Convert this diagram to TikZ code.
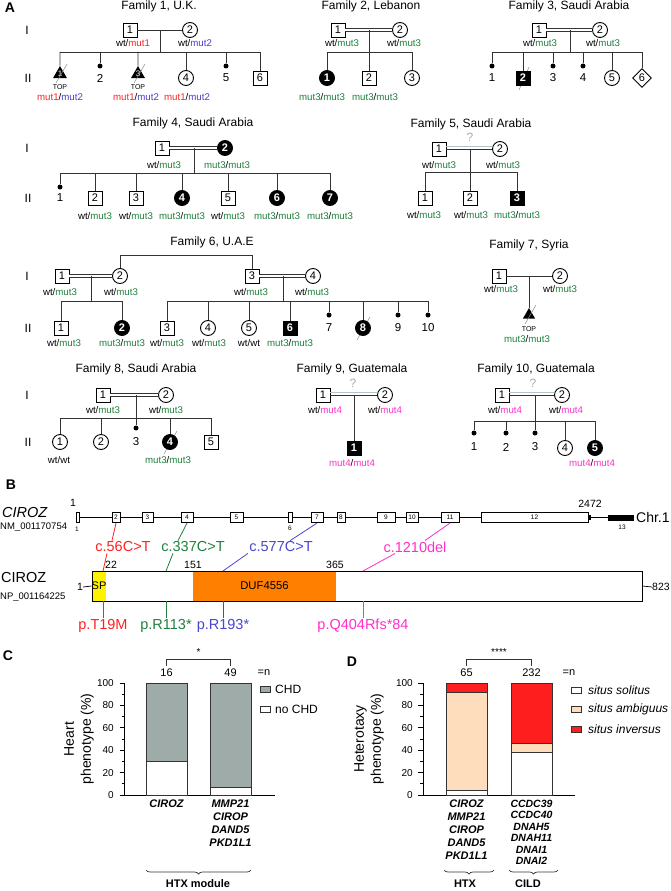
\documentclass[tikz,border=0pt]{standalone}
\usepackage{fontspec}
\setmainfont{Liberation Sans}
\usetikzlibrary{shapes.geometric,decorations.pathreplacing}
\definecolor{mutRed}   {HTML}{FF2020}
\definecolor{mutBlue}  {HTML}{4B3CC8}
\definecolor{mutGreen} {HTML}{1F7F3C}
\definecolor{mutPink}  {HTML}{FF2FC8}
\definecolor{cBlue}    {HTML}{4747CC}
\definecolor{lineGray} {HTML}{333333}
\definecolor{slashGray}{HTML}{8A8A8A}
\definecolor{qGray}    {HTML}{A9A9A9}
\definecolor{consGray} {HTML}{B4C3C8}
\definecolor{spYellow} {HTML}{FFF200}
\definecolor{dufOrange}{HTML}{FF8000}
\definecolor{chdGray}  {HTML}{9FABA9}
\definecolor{ambBeige} {HTML}{FDDDBC}
\definecolor{invRed}   {HTML}{FF1E1E}
\newcommand{\fsz}[1]{\fontsize{#1}{#1}\selectfont}
\newcommand{\mone}{\textcolor{mutRed}{mut1}}
\newcommand{\mtwo}{\textcolor{mutBlue}{mut2}}
\newcommand{\mthree}{\textcolor{mutGreen}{mut3}}
\newcommand{\mfour}{\textcolor{mutPink}{mut4}}
\newcommand{\chartseg}[5]{\draw[barseg,fill=#5] (#1,{795-1.12*#3}) rectangle (#2,{795-1.12*#4});}
\tikzset{
  panellab/.style={font=\bfseries\fsz{14},inner sep=0pt},
  famtitle/.style={font=\fsz{12},inner sep=0pt},
  genlab/.style={font=\fsz{12},inner sep=0pt},
  male/.style={rectangle,draw=black,line width=0.9pt,fill=white,minimum size=14pt,inner sep=0pt,font=\fsz{11}},
  female/.style={circle,draw=black,line width=0.9pt,fill=white,minimum size=15pt,inner sep=0pt,font=\fsz{11}},
  unknown/.style={diamond,draw=black,line width=0.9pt,fill=white,minimum size=19pt,inner sep=0pt,font=\fsz{11}},
  topnode/.style={regular polygon,regular polygon sides=3,fill=black,minimum size=16pt,inner sep=0pt,text=white,font=\fsz{8}},
  aff/.style={fill=black,text=white,font=\bfseries\fsz{11}},
  loss/.style={circle,fill=black,minimum size=5pt,inner sep=0pt},
  num/.style={font=\fsz{11.5},inner sep=0pt},
  geno/.style={font=\fsz{9.7},inner sep=0pt},
  toplab/.style={font=\fsz{7},inner sep=0pt},
  ped/.style={draw=lineGray,line width=0.9pt},
  cons/.style={draw=lineGray,double=white,double distance=2pt,line width=0.8pt},
  consq/.style={draw=consGray,line width=0.9pt},
  qmark/.style={font=\fsz{12},text=qGray,inner sep=0pt},
  slash/.style={draw=slashGray,line width=0.5pt},
  exon/.style={rectangle,draw=black,line width=0.7pt,fill=white,minimum height=10.5pt,inner sep=0pt,font=\fsz{6.5}},
  gline/.style={draw=black,line width=0.7pt},
  posnum/.style={font=\fsz{10.5},inner sep=0pt},
  mutlab/.style={font=\fsz{14.5},inner sep=1pt},
  mutln/.style={line width=0.8pt},
  axisln/.style={draw=black,line width=0.8pt},
  tick/.style={font=\fsz{10},inner sep=0pt},
  barseg/.style={draw=lineGray,line width=0.9pt},
  genes/.style={font=\bfseries\itshape\fsz{11.5},inner sep=0pt,align=center},
  grp/.style={font=\bfseries\fsz{11},inner sep=0pt},
  brc/.style={draw=lineGray,line width=0.7pt,decorate,decoration={brace,mirror,amplitude=4pt}},
  legbox/.style={rectangle,draw=lineGray,line width=0.9pt,minimum width=10pt,minimum height=6pt,inner sep=0pt},
  legtxt/.style={font=\fsz{12},inner sep=0pt,anchor=west},
  ylab/.style={font=\fontsize{14}{17}\selectfont,rotate=90,align=center,inner sep=0pt},
}

\begin{document}
\begin{tikzpicture}[x=1pt,y=-1pt]
\useasboundingbox (0,0) rectangle (671,891);

% ---------------- A: pedigrees ----------------
\node[panellab] (labA) at (10,8) {A};
\node[genlab] (gI1)  at (27,30)  {I};
\node[genlab] (gII1) at (28,78)  {II};
\node[genlab] (gI2)  at (27,148) {I};
\node[genlab] (gII2) at (28,198) {II};
\node[genlab] (gI3)  at (27,276) {I};
\node[genlab] (gII3) at (28,328) {II};
\node[genlab] (gI4)  at (27,395) {I};
\node[genlab] (gII4) at (28,442) {II};

% family 1
\node[famtitle] (t1) at (159,6) {Family 1, U.K.};
\node[male]   (f1a) at (130,30) {1};
\node[female] (f1b) at (190,30) {2};
\coordinate (f1m) at (160,30);
\coordinate (f1s) at (160,52);
\draw[ped] (f1a) -- (f1b);
\draw[ped] (f1m) -- (f1s);
\node[topnode] (f1c1) at (60,74) {1};
\node[loss]    (f1c2) at (100,66) {};
\node[topnode] (f1c3) at (138,74) {3};
\node[female]  (f1c4) at (186,78) {4};
\node[loss]    (f1c5) at (226,66) {};
\node[male]    (f1c6) at (260,78) {6};
\draw[ped] (f1c1 |- f1s) -- (f1c6 |- f1s);
\foreach \c in {f1c1,f1c2,f1c3,f1c4,f1c5,f1c6} \draw[ped] (\c) -- (\c |- f1s);
\draw[slash] ([shift={(-4,9)}]f1c1.center) -- ([shift={(7,-10)}]f1c1.center);
\draw[slash] ([shift={(-4,9)}]f1c3.center) -- ([shift={(7,-10)}]f1c3.center);
\node[num] (f1n2) at (100,78) {2};
\node[num] (f1n5) at (226,78) {5};
\node[toplab] (f1top1) at (60,87) {TOP};
\node[toplab] (f1top3) at (138,87) {TOP};
\node[geno] (f1ga) at (133,43) {wt/\mone};
\node[geno] (f1gb) at (195,43) {wt/\mtwo};
\node[geno] (f1g1) at (60,97)  {\mone/\mtwo};
\node[geno] (f1g3) at (136,97) {\mone/\mtwo};
\node[geno] (f1g4) at (187,97) {\mone/\mtwo};

% family 2
\node[famtitle] (t2) at (371,6) {Family 2, Lebanon};
\node[male]   (f2a) at (338,30) {1};
\node[female] (f2b) at (400,30) {2};
\coordinate (f2m) at (369,30);
\coordinate (f2s) at (369,52);
\draw[cons] (f2a) -- (f2b);
\draw[ped] (f2m) -- (f2s);
\node[female,aff] (f2c1) at (327,78) {1};
\node[male]       (f2c2) at (369,78) {2};
\node[female]     (f2c3) at (412,78) {3};
\draw[ped] (f2c1 |- f2s) -- (f2c3 |- f2s);
\foreach \c in {f2c1,f2c2,f2c3} \draw[ped] (\c) -- (\c |- f2s);
\node[geno] (f2ga) at (342,43) {wt/\mthree};
\node[geno] (f2gb) at (404,43) {wt/\mthree};
\node[geno] (f2g1) at (322,97) {\mthree/\mthree};
\node[geno] (f2g2) at (375,97) {\mthree/\mthree};

% family 3
\node[famtitle] (t3) at (569,6) {Family 3, Saudi Arabia};
\node[male]   (f3a) at (539,30) {1};
\node[female] (f3b) at (600,30) {2};
\coordinate (f3m) at (570,30);
\coordinate (f3s) at (570,52);
\draw[cons] (f3a) -- (f3b);
\draw[ped] (f3m) -- (f3s);
\node[loss]    (f3c1) at (492,66) {};
\draw[slash] ([shift={(-4,12)}]523,78) -- ([shift={(6,-11)}]523,78);
\node[male,aff] (f3c2) at (523,78) {2};
\node[loss]    (f3c3) at (553,66) {};
\node[loss]    (f3c4) at (583,66) {};
\node[female]  (f3c5) at (612,78) {5};
\node[unknown] (f3c6) at (642,78) {6};
\draw[ped] (f3c1 |- f3s) -- (f3c6 |- f3s);
\foreach \c in {f3c1,f3c2,f3c3,f3c4,f3c5,f3c6} \draw[ped] (\c) -- (\c |- f3s);
\node[num] (f3n1) at (492,78) {1};
\node[num] (f3n3) at (553,78) {3};
\node[num] (f3n4) at (583,78) {4};
\node[geno] (f3ga) at (540,43) {wt/\mthree};
\node[geno] (f3gb) at (603,43) {wt/\mthree};

% family 4
\node[famtitle] (t4) at (193,123) {Family 4, Saudi Arabia};
\node[male]       (f4a) at (162,148) {1};
\node[female,aff] (f4b) at (225,148) {2};
\coordinate (f4m) at (194,148);
\coordinate (f4s) at (194,173);
\draw[cons] (f4a) -- (f4b);
\draw[ped] (f4m) -- (f4s);
\node[loss]       (f4c1) at (60,187)  {};
\node[male]       (f4c2) at (95,198)  {2};
\node[male]       (f4c3) at (136,198) {3};
\node[female,aff] (f4c4) at (182,198) {4};
\node[male]       (f4c5) at (228,198) {5};
\node[female,aff] (f4c6) at (277,198) {6};
\node[female,aff] (f4c7) at (330,198) {7};
\draw[ped] (f4c1 |- f4s) -- (f4c7 |- f4s);
\foreach \c in {f4c1,f4c2,f4c3,f4c4,f4c5,f4c6,f4c7} \draw[ped] (\c) -- (\c |- f4s);
\node[num] (f4n1) at (60,198) {1};
\node[geno] (f4ga) at (164,165) {wt/\mthree};
\node[geno] (f4gb) at (227,165) {\mthree/\mthree};
\node[geno] (f4g2) at (95,216)  {wt/\mthree};
\node[geno] (f4g3) at (136,216) {wt/\mthree};
\node[geno] (f4g4) at (182,216) {\mthree/\mthree};
\node[geno] (f4g5) at (228,216) {wt/\mthree};
\node[geno] (f4g6) at (277,216) {\mthree/\mthree};
\node[geno] (f4g7) at (330,216) {\mthree/\mthree};

% family 5
\node[famtitle] (t5) at (471,124) {Family 5, Saudi Arabia};
\node[qmark] (f5q) at (470,137) {?};
\node[male]   (f5a) at (439,149) {1};
\node[female] (f5b) at (500,149) {2};
\coordinate (f5m) at (470,149);
\coordinate (f5s) at (470,172);
\draw[consq] ([shift={(0,-2.8)}]f5a.east) -- ([shift={(0,-2.8)}]f5b.west);
\draw[ped] (f5a) -- (f5b);
\draw[ped] (f5m) -- (f5s);
\node[male]     (f5c1) at (425,198) {1};
\node[male]     (f5c2) at (470,198) {2};
\node[male,aff] (f5c3) at (517,198) {3};
\draw[ped] (f5c1 |- f5s) -- (f5c3 |- f5s);
\foreach \c in {f5c1,f5c2,f5c3} \draw[ped] (\c) -- (\c |- f5s);
\node[geno] (f5ga) at (439,165) {wt/\mthree};
\node[geno] (f5gb) at (503,165) {wt/\mthree};
\node[geno] (f5g1) at (424,215) {wt/\mthree};
\node[geno] (f5g2) at (471,215) {wt/\mthree};
\node[geno] (f5g3) at (517,215) {\mthree/\mthree};

% family 6
\node[famtitle] (t6) at (212,242) {Family 6, U.A.E};
\node[male]   (f6a) at (62,276)  {1};
\node[female] (f6b) at (120,276) {2};
\node[male]   (f6c) at (252,276) {3};
\node[female] (f6d) at (313,276) {4};
\coordinate (f6t)  at (186,255);
\coordinate (f6m1) at (91,276);
\coordinate (f6s1) at (91,301);
\coordinate (f6m2) at (283,276);
\coordinate (f6s2) at (283,301);
\draw[ped] (f6b.north) -- (f6b.north |- f6t) -- (f6c.north |- f6t) -- (f6c.north);
\draw[cons] (f6a) -- (f6b);
\draw[cons] (f6c) -- (f6d);
\draw[ped] (f6m1) -- (f6s1);
\draw[ped] (f6m2) -- (f6s2);
\node[male]       (f6c1) at (61,328)  {1};
\node[female,aff] (f6c2) at (122,328) {2};
\draw[ped] (f6c1 |- f6s1) -- (f6c2 |- f6s1);
\foreach \c in {f6c1,f6c2} \draw[ped] (\c) -- (\c |- f6s1);
\node[male]       (f6c3) at (167,328) {3};
\node[female]     (f6c4) at (208,328) {4};
\node[female]     (f6c5) at (249,328) {5};
\node[male,aff]   (f6c6) at (290,328) {6};
\node[loss]       (f6c7) at (329,315) {};
\draw[slash] ([shift={(-6,12)}]363,328) -- ([shift={(7,-11)}]363,328);
\node[female,aff] (f6c8) at (363,328) {8};
\node[loss]       (f6c9) at (398,315) {};
\node[loss]       (f6c10) at (428,315) {};
\draw[ped] (f6c3 |- f6s2) -- (f6c10 |- f6s2);
\foreach \c in {f6c3,f6c4,f6c5,f6c6,f6c7,f6c8,f6c9,f6c10} \draw[ped] (\c) -- (\c |- f6s2);
\node[num] (f6n7)  at (329,328) {7};
\node[num] (f6n9)  at (398,328) {9};
\node[num] (f6n10) at (428,328) {10};
\node[geno] (f6ga) at (60,292)  {wt/\mthree};
\node[geno] (f6gb) at (121,292) {wt/\mthree};
\node[geno] (f6gc) at (251,292) {wt/\mthree};
\node[geno] (f6gd) at (312,292) {wt/\mthree};
\node[geno] (f6g1) at (64,343)  {wt/\mthree};
\node[geno] (f6g2) at (122,343) {\mthree/\mthree};
\node[geno] (f6g3) at (167,343) {wt/\mthree};
\node[geno] (f6g4) at (209,343) {wt/\mthree};
\node[geno] (f6g5) at (249,343) {wt/wt};
\node[geno] (f6g6) at (290,343) {\mthree/\mthree};

% family 7
\node[famtitle] (t7) at (529,245) {Family 7, Syria};
\node[male]   (f7a) at (499,276) {1};
\node[female] (f7b) at (560,276) {2};
\coordinate (f7m) at (529,276);
\draw[ped] (f7a) -- (f7b);
\node[topnode,minimum size=14pt] (f7c1) at (529,315) {};
\draw[ped] (f7m) -- (f7c1);
\draw[slash] ([shift={(-4,9)}]f7c1.center) -- ([shift={(7,-10)}]f7c1.center);
\node[toplab] (f7top) at (529,329) {TOP};
\node[geno] (f7ga) at (501,289) {wt/\mthree};
\node[geno] (f7gb) at (560,289) {wt/\mthree};
\node[geno] (f7g1) at (527,339) {\mthree/\mthree};

% family 8
\node[famtitle] (t8) at (136,369) {Family 8, Saudi Arabia};
\node[male]   (f8a) at (103,395) {1};
\node[female] (f8b) at (166,395) {2};
\coordinate (f8m) at (136,395);
\coordinate (f8s) at (136,418);
\draw[cons] (f8a) -- (f8b);
\node[female]     (f8c1) at (60,442)  {1};
\node[female]     (f8c2) at (101,442) {2};
\node[loss]       (f8c3) at (136,428) {};
\draw[slash] ([shift={(-6,12)}]170,442) -- ([shift={(7,-11)}]170,442);
\node[female,aff] (f8c4) at (170,442) {4};
\node[male]       (f8c5) at (211,442) {5};
\draw[ped] (f8m) -- (f8c3);
\draw[ped] (f8c1 |- f8s) -- (f8c5 |- f8s);
\foreach \c in {f8c1,f8c2,f8c4,f8c5} \draw[ped] (\c) -- (\c |- f8s);
\node[num] (f8n3) at (136,442) {3};
\node[geno] (f8ga) at (103,410) {wt/\mthree};
\node[geno] (f8gb) at (166,410) {wt/\mthree};
\node[geno] (f8g1) at (59,460)  {wt/wt};
\node[geno] (f8g4) at (168,460) {\mthree/\mthree};

% family 9
\node[famtitle] (t9) at (352,369) {Family 9, Guatemala};
\node[qmark] (f9q) at (353,383) {?};
\node[male]   (f9a) at (323,395) {1};
\node[female] (f9b) at (385,395) {2};
\coordinate (f9m) at (354,395);
\draw[consq] ([shift={(0,-2.8)}]f9a.east) -- ([shift={(0,-2.8)}]f9b.west);
\draw[ped] (f9a) -- (f9b);
\node[male,aff] (f9c1) at (354,448) {1};
\draw[ped] (f9m) -- (f9c1);
\node[geno] (f9ga) at (325,410) {wt/\mfour};
\node[geno] (f9gb) at (385,410) {wt/\mfour};
\node[geno] (f9g1) at (352,463) {\mfour/\mfour};

% family 10
\node[famtitle] (t10) at (536,369) {Family 10, Guatemala};
\node[qmark] (f10q) at (533,383) {?};
\node[male]   (f10a) at (502,395) {1};
\node[female] (f10b) at (562,395) {2};
\coordinate (f10m) at (535,395);
\coordinate (f10s) at (535,421);
\draw[consq] ([shift={(0,-2.8)}]f10a.east) -- ([shift={(0,-2.8)}]f10b.west);
\draw[ped] (f10a) -- (f10b);
\node[loss]       (f10c1) at (474,433) {};
\node[loss]       (f10c2) at (506,433) {};
\node[loss]       (f10c3) at (535,433) {};
\node[female]     (f10c4) at (565,448) {4};
\node[female,aff] (f10c5) at (595,448) {5};
\draw[ped] (f10m) -- (f10c3);
\draw[ped] (f10c1 |- f10s) -- (f10c5 |- f10s);
\foreach \c in {f10c1,f10c2,f10c4,f10c5} \draw[ped] (\c) -- (\c |- f10s);
\node[num] (f10n1) at (474,447) {1};
\node[num] (f10n2) at (506,447) {2};
\node[num] (f10n3) at (535,447) {3};
\node[geno] (f10ga) at (505,410) {wt/\mfour};
\node[geno] (f10gb) at (566,410) {wt/\mfour};
\node[geno] (f10g5) at (592,463) {\mfour/\mfour};

% ---------------- B: gene and protein ----------------
\node[panellab] (labB) at (11,485) {B};
\node[font=\itshape\fsz{14.5},inner sep=0pt,anchor=west] (gname) at (2,513) {CIROZ};
\node[font=\fsz{9.5},inner sep=0pt,anchor=west] (gacc) at (0,527) {NM\_001170754};
\node[exon,minimum width=3pt]   (ex1)  at (77.5,517.5) {};
\node[exon,minimum width=8pt]   (ex2)  at (116,517.5)  {2};
\node[exon,minimum width=11pt]  (ex3)  at (147.5,517.5){3};
\node[exon,minimum width=12pt]  (ex4)  at (187,517.5)  {4};
\node[exon,minimum width=13pt]  (ex5)  at (236.5,517.5){5};
\node[exon,minimum width=4pt]   (ex6)  at (290,517.5)  {};
\node[exon,minimum width=12pt]  (ex7)  at (317,517.5)  {7};
\node[exon,minimum width=8pt]   (ex8)  at (341,517.5)  {8};
\node[exon,minimum width=18pt]  (ex9)  at (386,517.5)  {9};
\node[exon,minimum width=12pt]  (ex10) at (412,517.5)  {10};
\node[exon,minimum width=18pt]  (ex11) at (450,517.5)  {11};
\node[exon,minimum width=107pt] (ex12) at (534.5,517.5){12};
\node[rectangle,fill=black,minimum width=26pt,minimum height=6pt,inner sep=0pt] (ex13) at (621,517.5) {};
\foreach \a/\b in {1/2,2/3,3/4,4/5,5/6,6/7,7/8,8/9,9/10,10/11,11/12,12/13} \draw[gline] (ex\a) -- (ex\b);
\node[rectangle,fill=black,minimum width=3pt,minimum height=5pt,inner sep=0pt] (utr) at (589.5,517.5) {};
\node[font=\fsz{6.5},inner sep=0pt] (ex1n)  at (77,529)  {1};
\node[font=\fsz{6.5},inner sep=0pt] (ex6n)  at (290,528) {6};
\node[font=\fsz{6.5},inner sep=0pt] (ex13n) at (622,527) {13};
\node[posnum] (gstart) at (73,503)  {1};
\node[posnum] (gend)   at (590,504) {2472};
\node[font=\fsz{14},inner sep=0pt,anchor=west] (chr) at (636,517.5) {Chr.1};

\node[font=\fsz{14.5},inner sep=0pt,anchor=west] (pname) at (1,578) {CIROZ};
\node[font=\fsz{9.5},inner sep=0pt,anchor=west] (pacc) at (0,597) {NP\_001164225};
\node[rectangle,fill=spYellow,minimum width=14pt,minimum height=30pt,inner sep=0pt,font=\fsz{11}] (sp) at (99,586) {SP};
\node[rectangle,fill=dufOrange,minimum width=143pt,minimum height=30pt,inner sep=0pt,font=\fsz{11.3}] (duf) at (264.5,586) {DUF4556};
\node[rectangle,draw=black,line width=0.8pt,minimum width=550pt,minimum height=30pt,inner sep=0pt] (prot) at (367,586) {};
\node[posnum] (pstart) at (80,587) {1};
\node[posnum] (pend)   at (661,587) {823};
\draw[gline] (pstart.east) -- (prot.west);
\draw[gline] (prot.east) -- (pend.west);
\node[posnum] (p22)  at (111,565) {22};
\node[posnum] (p151) at (193,565) {151};
\node[posnum] (p365) at (335,565) {365};
\coordinate (aa19)  at (103,571);
\coordinate (aa113) at (166,571);
\coordinate (aa193) at (223,571);
\coordinate (aa404) at (363,571);

\node[mutlab,text=mutRed]   (c56)   at (123,547) {c.56C>T};
\node[mutlab,text=mutGreen] (c337)  at (193,547) {c.337C>T};
\node[mutlab,text=cBlue]    (c577)  at (281,547) {c.577C>T};
\node[mutlab,text=mutPink]  (c1210) at (415,547) {c.1210del};
\draw[mutln,mutRed]   (ex2.south)  -- ([xshift=-11pt]c56.north);
\draw[mutln,mutRed]   ([xshift=-16pt]c56.south) -- (aa19);
\draw[mutln,mutGreen] (ex4.south)  -- ([xshift=-15pt]c337.north);
\draw[mutln,mutGreen] ([xshift=-20pt]c337.south) -- (aa113);
\draw[mutln,cBlue]    (ex7.south)  -- ([xshift=9pt]c577.north);
\draw[mutln,cBlue]    ([xshift=-33pt]c577.south) -- (aa193);
\draw[mutln,mutPink]  (ex11.south) -- ([xshift=10pt]c1210.north);
\draw[mutln,mutPink]  ([xshift=-20pt]c1210.south) -- (aa404);

\node[mutlab,text=mutRed]   (pT19)  at (103,626) {p.T19M};
\node[mutlab,text=mutGreen] (pR113) at (166,626) {p.R113*};
\node[mutlab,text=cBlue]    (pR193) at (223,626) {p.R193*};
\node[mutlab,text=mutPink]  (pQ404) at (363,626) {p.Q404Rfs*84};
\draw[mutln,mutRed]   (pT19.north)  -- (pT19.north |- prot.south);
\draw[mutln,mutGreen] (pR113.north) -- (pR113.north |- prot.south);
\draw[mutln,cBlue]    (pR193.north) -- (pR193.north |- prot.south);
\draw[mutln,mutPink]  (pQ404.north) -- (pQ404.north |- prot.south);

% ---------------- C: heart phenotype ----------------
\node[panellab] (labC) at (8,656) {C};
\foreach \p in {0,20,...,100}{
  \pgfmathsetmacro{\yy}{795-1.12*\p}
  \draw[axisln] (119.5,\yy) -- (124.5,\yy);
  \node[tick,anchor=east] (tC\p) at (114,\yy) {\p};
  \draw[axisln] (418,\yy) -- (423,\yy);
  \node[tick,anchor=east] (tD\p) at (413,\yy) {\p};
}
\foreach \p in {10,30,...,90}{
  \pgfmathsetmacro{\yy}{795-1.12*\p}
  \draw[axisln] (121.5,\yy) -- (124.5,\yy);
  \draw[axisln] (420,\yy) -- (423,\yy);
}
\draw[axisln] (124.5,683) -- (124.5,795) -- (122,795) -- (275,795);
\node[ylab] (yC) at (79,739) {Heart\\phenotype (\%)};
\chartseg{146}{187}{0}{30}{white}
\chartseg{146}{187}{30}{100}{chdGray}
\chartseg{210}{251}{0}{7}{white}
\chartseg{210}{251}{7}{100}{chdGray}
\node[tick,font=\fsz{11}] (nC1) at (166.5,673) {16};
\node[tick,font=\fsz{11}] (nC2) at (230.5,673) {49};
\node[tick,font=\fsz{11}] (nC3) at (264,673) {=n};
\draw[ped] (nC1.north) ++(0,-3) -- ++(0,-6) -| ([yshift=3pt]nC2.north);
\node[tick] (sigC) at (198.5,652) {*};
\node[legbox,fill=chdGray] (lgC1) at (265,689) {};
\node[legtxt] (ltC1) at (275,689) {CHD};
\node[legbox,fill=white] (lgC2) at (265,709) {};
\node[legtxt] (ltC2) at (275,709) {no CHD};
\node[genes,anchor=north,font=\bfseries\itshape\fsz{11}] (xC1) at (166.5,800) {CIROZ};
\node[genes,anchor=north,font=\bfseries\itshape\fontsize{11}{12.8}\selectfont] (xC2) at (230.5,800) {MMP21\\CIROP\\DAND5\\PKD1L1};
\draw[brc] (146,870) -- (251,870);
\node[grp] (gC) at (198,884) {HTX module};

% ---------------- D: heterotaxy phenotype ----------------
\node[panellab] (labD) at (352,662) {D};
\draw[axisln] (423,683) -- (423,795) -- (421,795) -- (575,795);
\node[ylab] (yD) at (369,739) {Heterotaxy\\phenotype (\%)};
\chartseg{446}{487}{0}{4}{white}
\chartseg{446}{487}{4}{92}{ambBeige}
\chartseg{446}{487}{92}{100}{invRed}
\chartseg{511}{552}{0}{38}{white}
\chartseg{511}{552}{38}{46}{ambBeige}
\chartseg{511}{552}{46}{100}{invRed}
\node[tick,font=\fsz{11}] (nD1) at (466.5,673) {65};
\node[tick,font=\fsz{11}] (nD2) at (531.5,673) {232};
\node[tick,font=\fsz{11}] (nD3) at (569,673) {=n};
\draw[ped] (nD1.north) ++(0,-3) -- ++(0,-6) -| ([yshift=3pt]nD2.north);
\node[tick] (sigD) at (499,652) {****};
\node[legbox,fill=white]    (lgD1) at (576.5,690) {};
\node[legtxt,font=\itshape\fsz{12}] (ltD1) at (588,690) {situs solitus};
\node[legbox,fill=ambBeige] (lgD2) at (576.5,709) {};
\node[legtxt,font=\itshape\fsz{12}] (ltD2) at (588,709) {situs ambiguus};
\node[legbox,fill=invRed]   (lgD3) at (576.5,729) {};
\node[legtxt,font=\itshape\fsz{12}] (ltD3) at (588,729) {situs inversus};
\node[genes,anchor=north,font=\bfseries\itshape\fontsize{11}{12.8}\selectfont] (xD1) at (466.5,800) {CIROZ\\MMP21\\CIROP\\DAND5\\PKD1L1};
\node[genes,anchor=north,font=\bfseries\itshape\fontsize{10.5}{11.4}\selectfont] (xD2) at (531.5,800) {CCDC39\\CCDC40\\DNAH5\\DNAH11\\DNAI1\\DNAI2};
\draw[brc] (444,870) -- (494,870);
\draw[brc] (509,870) -- (558,870);
\node[grp] (gD1) at (465,884) {HTX};
\node[grp] (gD2) at (528,884) {CILD};

\end{tikzpicture}
\end{document}
